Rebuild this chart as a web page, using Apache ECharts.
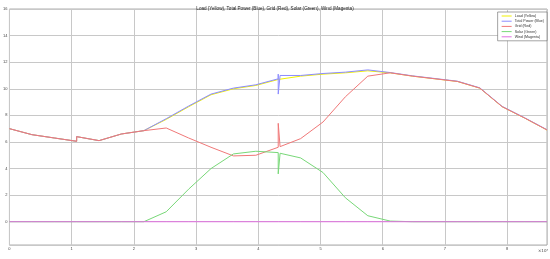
<!DOCTYPE html>
<html>
<head>
<meta charset="utf-8">
<script src="https://cdn.jsdelivr.net/npm/echarts@6/dist/echarts.min.js"></script>
<style>
  html, body { margin: 0; padding: 0; background: #fff; }
  #chart { width: 550px; height: 259px; }
</style>
</head>
<body>
<div id="chart"></div>
<script>
// time in seconds (hourly samples, with a glitch around noon)
const timeSec = [0, 3600, 7200, 10800, 10800, 14400, 18000, 21600, 25200, 28800, 32400, 36000, 39600,
  43200, 43200, 43200, 43500, 43500, 46800, 50400, 54000, 57600, 61200, 64800, 68400, 72000, 75600, 79200, 82800, 86400]

const loadPower = [7.0, 6.55, 6.3, 6.05, 6.4, 6.1, 6.6, 6.85, 7.7, 8.65, 9.55, 10.0, 10.25,
  10.7, 10.7, 10.7, 10.72, 10.72, 10.95, 11.1, 11.2, 11.35, 11.2, 10.95, 10.75, 10.55, 10.05, 8.65, 7.8, 6.9]
const totalPower = [7.0, 6.55, 6.3, 6.05, 6.4, 6.1, 6.6, 6.85, 7.75, 8.7, 9.6, 10.05, 10.3,
  10.75, 11.1, 9.6, 9.6, 11.0, 11.0, 11.15, 11.25, 11.42, 11.22, 10.97, 10.77, 10.57, 10.07, 8.67, 7.82, 6.92]
const gridPower = [7.0, 6.55, 6.3, 6.05, 6.4, 6.1, 6.6, 6.85, 7.05, 6.3, 5.6, 4.95, 5.0,
  5.6, 7.4, 7.4, 7.3, 5.65, 6.25, 7.5, 9.4, 10.95, 11.2, 10.95, 10.75, 10.55, 10.05, 8.65, 7.8, 6.9]
const solarPower = [0, 0, 0, 0, 0, 0, 0, 0, 0.75, 2.45, 4.0, 5.1, 5.3,
  5.2, 5.2, 3.6, 3.6, 5.15, 4.8, 3.7, 1.8, 0.45, 0.05, 0, 0, 0, 0, 0, 0, 0]
const windPower = [0, 0, 0, 0, 0, 0, 0, 0, 0, 0, 0, 0, 0,
  0, 0, 0, 0, 0, 0, 0, 0, 0, 0, 0, 0, 0, 0, 0, 0, 0]

const seriesNames = ['Load (Yellow)', 'Total Power (Blue)', 'Grid (Red)', 'Solar (Green)', 'Wind (Magenta)']
const seriesColors = ['#f0f000', '#8c8cff', '#f07878', '#78d878', '#e070e0']
const seriesValues = [loadPower, totalPower, gridPower, solarPower, windPower]

const pairs = vals => timeSec.map((t, i) => [t, vals[i]])

const chart = echarts.init(document.getElementById('chart'))

const option = {
  backgroundColor: '#fff',
  animation: false,
  title: {
    text: 'Load (Yellow), Total Power (Blue), Grid (Red), Solar (Green), Wind (Magenta)',
    left: 'center',
    top: 1,
    textStyle: { fontSize: 4.6, fontWeight: 'normal', color: '#222', fontFamily: 'Liberation Sans' }
  },
  legend: {
    orient: 'vertical',
    right: 3,
    top: 12,
    padding: [2, 3, 2, 4],
    itemGap: 1.2,
    itemWidth: 10,
    itemHeight: 1,
    icon: 'rect',
    backgroundColor: '#fff',
    borderColor: '#666',
    borderWidth: 0.6,
    textStyle: { fontSize: 3.6, color: '#333', fontFamily: 'Liberation Sans', padding: [0, 0, 0, -2] },
    data: seriesNames
  },
  grid: {
    left: 8,
    right: 3,
    top: 9,
    bottom: 14,
    show: true,
    borderColor: '#999',
    borderWidth: 0.8
  },
  xAxis: {
    type: 'value',
    min: 0,
    max: 86400,
    interval: 10000,
    axisLine: { show: false },
    axisTick: { show: false },
    splitLine: { lineStyle: { color: '#c8c8c8', width: 1 } },
    axisLabel: {
      fontSize: 4,
      color: '#444',
      margin: 2,
      fontFamily: 'Liberation Sans',
      formatter: v => (v % 10000 === 0 ? String(v / 10000) : '')
    }
  },
  yAxis: {
    type: 'value',
    min: -1.75,
    max: 16,
    splitNumber: 9,
    axisLine: { show: false },
    axisTick: { show: false },
    splitLine: { lineStyle: { color: '#c8c8c8', width: 1 } },
    axisLabel: {
      fontSize: 4,
      color: '#444',
      margin: 2,
      fontFamily: 'Liberation Sans',
      formatter: v => (v >= 0 && v % 2 === 0 ? String(v) : '')
    }
  },
  graphic: [{
    type: 'text',
    left: 538,
    top: 249,
    style: {
      text: '×10⁴',
      fontSize: 4,
      fill: '#444',
      fontFamily: 'DejaVu Sans'
    }
  }],
  series: seriesNames.map((name, i) => ({
    name: name,
    type: 'line',
    data: pairs(seriesValues[i]),
    symbol: 'none',
    color: seriesColors[i],
    lineStyle: { width: 1, color: seriesColors[i] },
    z: 2 + i
  }))
}

chart.setOption(option)
</script>
</body>
</html>
